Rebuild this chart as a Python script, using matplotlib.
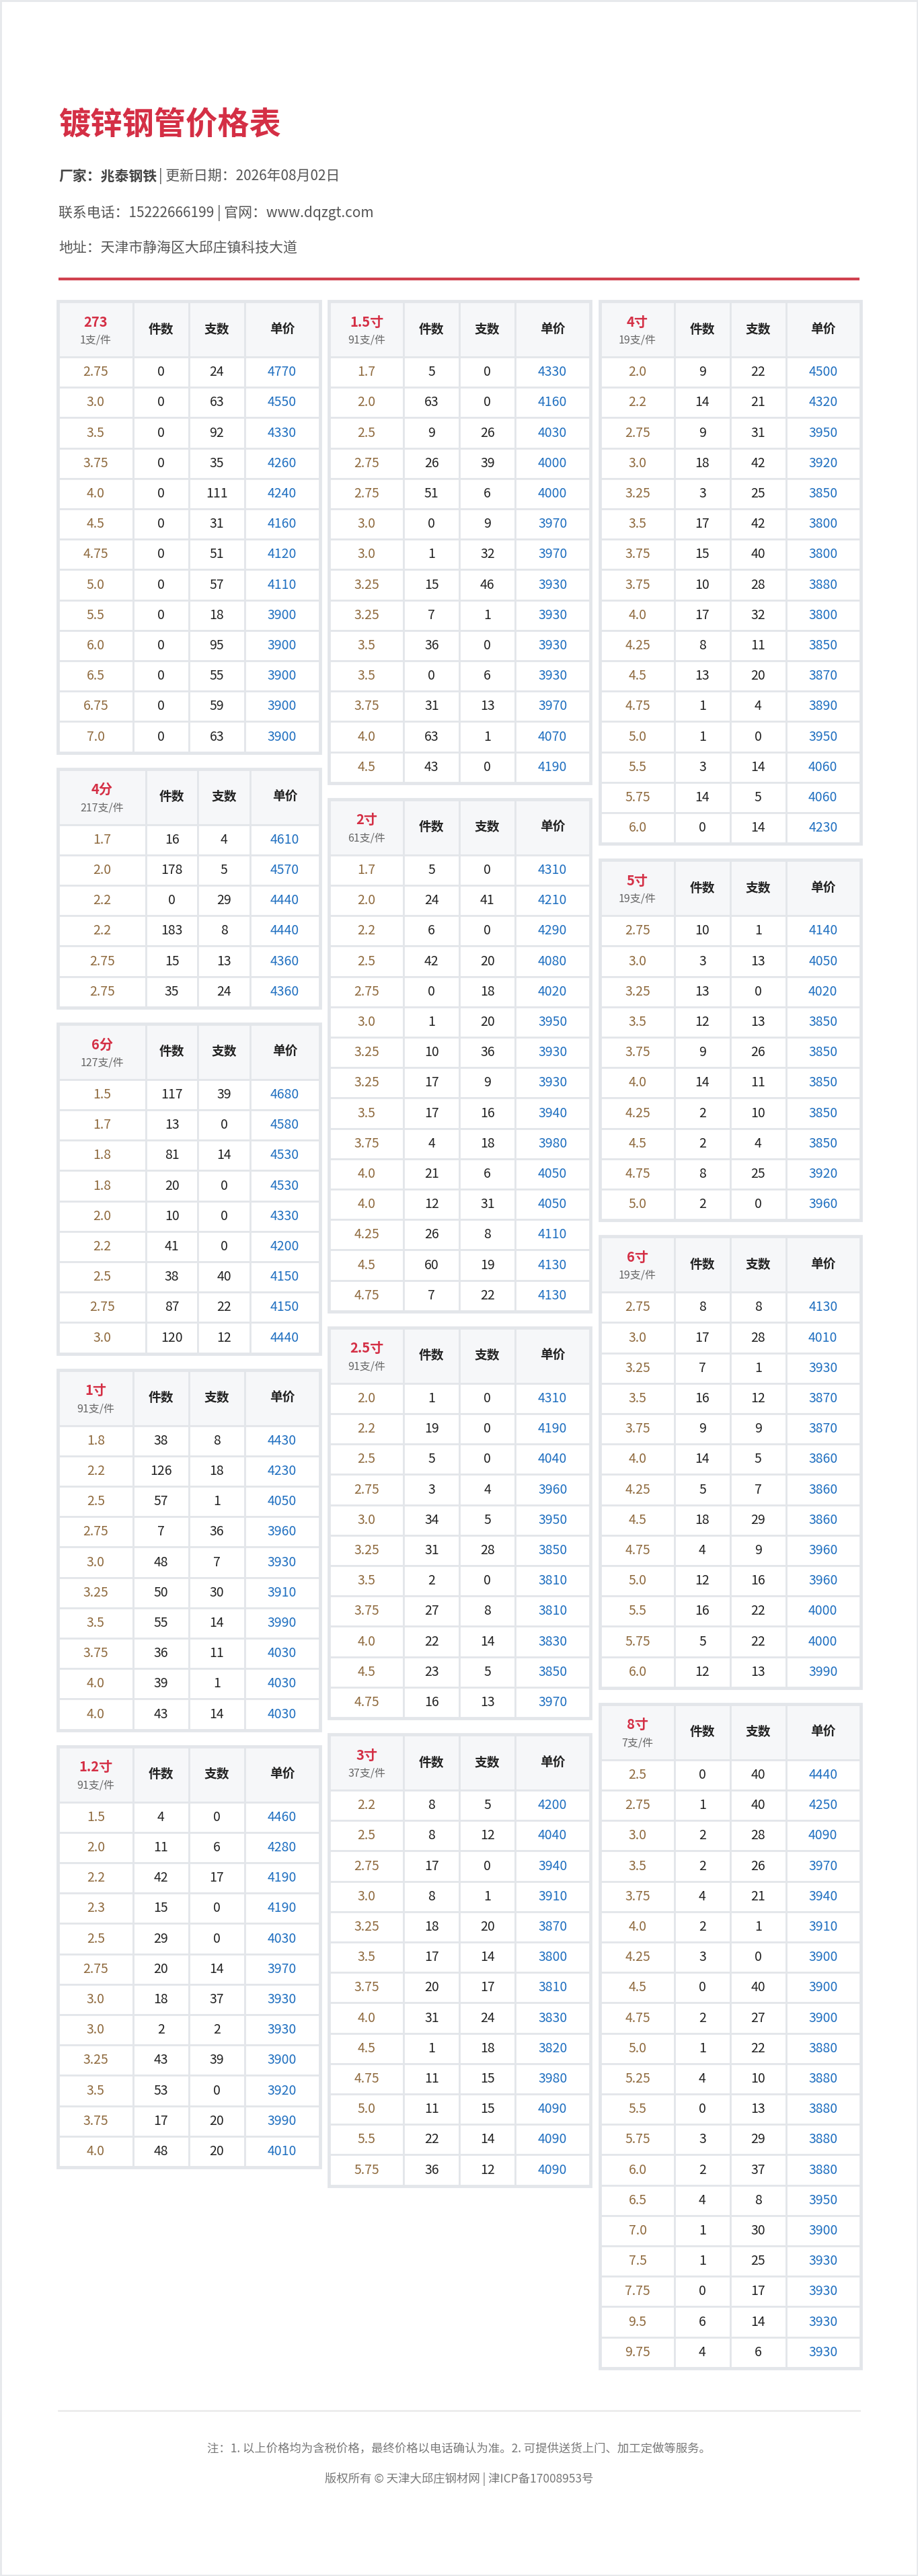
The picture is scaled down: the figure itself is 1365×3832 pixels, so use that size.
import matplotlib
matplotlib.use('Agg')
import matplotlib.pyplot as plt
from matplotlib.patches import Rectangle

plt.rcParams['font.family'] = ['Noto Sans CJK SC', 'DejaVu Sans']

# ---- data ----
t273_wall = ['2.75', '3.0', '3.5', '3.75', '4.0', '4.5', '4.75', '5.0', '5.5', '6.0', '6.5', '6.75', '7.0']
t273_jian = [0, 0, 0, 0, 0, 0, 0, 0, 0, 0, 0, 0, 0]
t273_zhi = [24, 63, 92, 35, 111, 31, 51, 57, 18, 95, 55, 59, 63]
t273_price = [4770, 4550, 4330, 4260, 4240, 4160, 4120, 4110, 3900, 3900, 3900, 3900, 3900]

f4_wall = ['1.7', '2.0', '2.2', '2.2', '2.75', '2.75']
f4_jian = [16, 178, 0, 183, 15, 35]
f4_zhi = [4, 5, 29, 8, 13, 24]
f4_price = [4610, 4570, 4440, 4440, 4360, 4360]

f6_wall = ['1.5', '1.7', '1.8', '1.8', '2.0', '2.2', '2.5', '2.75', '3.0']
f6_jian = [117, 13, 81, 20, 10, 41, 38, 87, 120]
f6_zhi = [39, 0, 14, 0, 0, 0, 40, 22, 12]
f6_price = [4680, 4580, 4530, 4530, 4330, 4200, 4150, 4150, 4440]

c1_wall = ['1.8', '2.2', '2.5', '2.75', '3.0', '3.25', '3.5', '3.75', '4.0', '4.0']
c1_jian = [38, 126, 57, 7, 48, 50, 55, 36, 39, 43]
c1_zhi = [8, 18, 1, 36, 7, 30, 14, 11, 1, 14]
c1_price = [4430, 4230, 4050, 3960, 3930, 3910, 3990, 4030, 4030, 4030]

c12_wall = ['1.5', '2.0', '2.2', '2.3', '2.5', '2.75', '3.0', '3.0', '3.25', '3.5', '3.75', '4.0']
c12_jian = [4, 11, 42, 15, 29, 20, 18, 2, 43, 53, 17, 48]
c12_zhi = [0, 6, 17, 0, 0, 14, 37, 2, 39, 0, 20, 20]
c12_price = [4460, 4280, 4190, 4190, 4030, 3970, 3930, 3930, 3900, 3920, 3990, 4010]

c15_wall = ['1.7', '2.0', '2.5', '2.75', '2.75', '3.0', '3.0', '3.25', '3.25', '3.5', '3.5', '3.75', '4.0', '4.5']
c15_jian = [5, 63, 9, 26, 51, 0, 1, 15, 7, 36, 0, 31, 63, 43]
c15_zhi = [0, 0, 26, 39, 6, 9, 32, 46, 1, 0, 6, 13, 1, 0]
c15_price = [4330, 4160, 4030, 4000, 4000, 3970, 3970, 3930, 3930, 3930, 3930, 3970, 4070, 4190]

c2_wall = ['1.7', '2.0', '2.2', '2.5', '2.75', '3.0', '3.25', '3.25', '3.5', '3.75', '4.0', '4.0', '4.25', '4.5', '4.75']
c2_jian = [5, 24, 6, 42, 0, 1, 10, 17, 17, 4, 21, 12, 26, 60, 7]
c2_zhi = [0, 41, 0, 20, 18, 20, 36, 9, 16, 18, 6, 31, 8, 19, 22]
c2_price = [4310, 4210, 4290, 4080, 4020, 3950, 3930, 3930, 3940, 3980, 4050, 4050, 4110, 4130, 4130]

c25_wall = ['2.0', '2.2', '2.5', '2.75', '3.0', '3.25', '3.5', '3.75', '4.0', '4.5', '4.75']
c25_jian = [1, 19, 5, 3, 34, 31, 2, 27, 22, 23, 16]
c25_zhi = [0, 0, 0, 4, 5, 28, 0, 8, 14, 5, 13]
c25_price = [4310, 4190, 4040, 3960, 3950, 3850, 3810, 3810, 3830, 3850, 3970]

c3_wall = ['2.2', '2.5', '2.75', '3.0', '3.25', '3.5', '3.75', '4.0', '4.5', '4.75', '5.0', '5.5', '5.75']
c3_jian = [8, 8, 17, 8, 18, 17, 20, 31, 1, 11, 11, 22, 36]
c3_zhi = [5, 12, 0, 1, 20, 14, 17, 24, 18, 15, 15, 14, 12]
c3_price = [4200, 4040, 3940, 3910, 3870, 3800, 3810, 3830, 3820, 3980, 4090, 4090, 4090]

c4_wall = ['2.0', '2.2', '2.75', '3.0', '3.25', '3.5', '3.75', '3.75', '4.0', '4.25', '4.5', '4.75', '5.0', '5.5', '5.75', '6.0']
c4_jian = [9, 14, 9, 18, 3, 17, 15, 10, 17, 8, 13, 1, 1, 3, 14, 0]
c4_zhi = [22, 21, 31, 42, 25, 42, 40, 28, 32, 11, 20, 4, 0, 14, 5, 14]
c4_price = [4500, 4320, 3950, 3920, 3850, 3800, 3800, 3880, 3800, 3850, 3870, 3890, 3950, 4060, 4060, 4230]

c5_wall = ['2.75', '3.0', '3.25', '3.5', '3.75', '4.0', '4.25', '4.5', '4.75', '5.0']
c5_jian = [10, 3, 13, 12, 9, 14, 2, 2, 8, 2]
c5_zhi = [1, 13, 0, 13, 26, 11, 10, 4, 25, 0]
c5_price = [4140, 4050, 4020, 3850, 3850, 3850, 3850, 3850, 3920, 3960]

c6_wall = ['2.75', '3.0', '3.25', '3.5', '3.75', '4.0', '4.25', '4.5', '4.75', '5.0', '5.5', '5.75', '6.0']
c6_jian = [8, 17, 7, 16, 9, 14, 5, 18, 4, 12, 16, 5, 12]
c6_zhi = [8, 28, 1, 12, 9, 5, 7, 29, 9, 16, 22, 22, 13]
c6_price = [4130, 4010, 3930, 3870, 3870, 3860, 3860, 3860, 3960, 3960, 4000, 4000, 3990]

c8_wall = ['2.5', '2.75', '3.0', '3.5', '3.75', '4.0', '4.25', '4.5', '4.75', '5.0',
           '5.25', '5.5', '5.75', '6.0', '6.5', '7.0', '7.5', '7.75', '9.5', '9.75']
c8_jian = [0, 1, 2, 2, 4, 2, 3, 0, 2, 1, 4, 0, 3, 2, 4, 1, 1, 0, 6, 4]
c8_zhi = [40, 40, 28, 26, 21, 1, 0, 40, 27, 22, 10, 13, 29, 37, 8, 30, 25, 17, 14, 6]
c8_price = [4440, 4250, 4090, 3970, 3940, 3910, 3900, 3900, 3900, 3880,
            3880, 3880, 3880, 3880, 3950, 3900, 3930, 3930, 3930, 3930]

columns = [
    [('273', '1支/件', t273_wall, t273_jian, t273_zhi, t273_price),
     ('4分', '217支/件', f4_wall, f4_jian, f4_zhi, f4_price),
     ('6分', '127支/件', f6_wall, f6_jian, f6_zhi, f6_price),
     ('1寸', '91支/件', c1_wall, c1_jian, c1_zhi, c1_price),
     ('1.2寸', '91支/件', c12_wall, c12_jian, c12_zhi, c12_price)],
    [('1.5寸', '91支/件', c15_wall, c15_jian, c15_zhi, c15_price),
     ('2寸', '61支/件', c2_wall, c2_jian, c2_zhi, c2_price),
     ('2.5寸', '91支/件', c25_wall, c25_jian, c25_zhi, c25_price),
     ('3寸', '37支/件', c3_wall, c3_jian, c3_zhi, c3_price)],
    [('4寸', '19支/件', c4_wall, c4_jian, c4_zhi, c4_price),
     ('5寸', '19支/件', c5_wall, c5_jian, c5_zhi, c5_price),
     ('6寸', '19支/件', c6_wall, c6_jian, c6_zhi, c6_price),
     ('8寸', '7支/件', c8_wall, c8_jian, c8_zhi, c8_price)],
]

RED = '#d42f45'
BROWN = '#8f6a3e'
BLUE = '#1f6fc0'
BORDER = '#e3e6ea'
HEAD_BG = '#f6f7f9'

W, H = 1365, 3832
fig = plt.figure(figsize=(W / 100, H / 100), dpi=100)
ax = fig.add_axes([0, 0, 1, 1])
ax.set_xlim(0, W)
ax.set_ylim(H, 0)
ax.axis('off')

# page frame
ax.add_patch(Rectangle((1, 1), W - 2, H - 2, fill=False, ec='#e6e8eb', lw=2))

# header block
ax.text(87, 187, '镀锌钢管价格表', fontsize=34, fontweight='bold', color=RED, va='center')
ax.text(87, 262, '厂家：兆泰钢铁', fontsize=15, fontweight='bold', color='#444', va='center')
ax.text(236, 262, '| 更新日期：2026年08月02日', fontsize=15, color='#555', va='center')
ax.text(87, 317, '联系电话：15222666199 | 官网：www.dqzgt.com', fontsize=15, color='#555', va='center')
ax.text(87, 370, '地址：天津市静海区大邱庄镇科技大道', fontsize=15, color='#555', va='center')
ax.plot([87, 1278], [415, 415], color='#d0414f', lw=3, solid_capstyle='butt')

HEAD_H, ROW_H, GAP = 82, 45.2, 26
col_x = [(87, 475), (490, 877), (893, 1279)]


def draw_table(x0, x1, y0, name, sub, wall, jian, zhi, price):
    width = x1 - x0
    first = 0.335 if len(sub) >= 6 else 0.285
    rest = (1 - first)
    fr = [first, rest * 0.3, rest * 0.3, rest * 0.4]
    xs = [x0]
    for f in fr:
        xs.append(xs[-1] + f * width)
    n = len(wall)
    y1 = y0 + HEAD_H + n * ROW_H
    ax.add_patch(Rectangle((x0 - 2, y0 - 2), width + 4, y1 - y0 + 4, fc='white', ec=BORDER, lw=2))
    # header
    for j in range(4):
        ax.add_patch(Rectangle((xs[j], y0), xs[j + 1] - xs[j], HEAD_H, fc=HEAD_BG, ec=BORDER, lw=2))
    cx = [(xs[j] + xs[j + 1]) / 2 for j in range(4)]
    ax.text(cx[0], y0 + HEAD_H / 2 - 11, name, fontsize=14.5, fontweight='bold', color=RED, ha='center', va='center')
    ax.text(cx[0], y0 + HEAD_H / 2 + 16, sub, fontsize=11.5, color='#666', ha='center', va='center')
    for j, lab in enumerate(['件数', '支数', '单价']):
        ax.text(cx[j + 1], y0 + HEAD_H / 2, lab, fontsize=13.5, fontweight='bold', color='#222', ha='center', va='center')
    for i in range(n):
        ry = y0 + HEAD_H + i * ROW_H
        for j in range(4):
            ax.add_patch(Rectangle((xs[j], ry), xs[j + 1] - xs[j], ROW_H, fc='white', ec=BORDER, lw=2))
        yc = ry + ROW_H / 2
        ax.text(cx[0], yc, wall[i], fontsize=14, color=BROWN, ha='center', va='center')
        ax.text(cx[1], yc, str(jian[i]), fontsize=14, color='#222', ha='center', va='center')
        ax.text(cx[2], yc, str(zhi[i]), fontsize=14, color='#222', ha='center', va='center')
        ax.text(cx[3], yc, str(price[i]), fontsize=14, color=BLUE, ha='center', va='center')
    return y1


for (x0, x1), tables in zip(col_x, columns):
    y = 449
    for t in tables:
        y = draw_table(x0, x1, y, *t) + GAP

# footer
ax.plot([87, 1278], [3586, 3586], color='#ececec', lw=2)
ax.text(W / 2, 3643, '注：1. 以上价格均为含税价格，最终价格以电话确认为准。2. 可提供送货上门、加工定做等服务。',
        fontsize=12.5, color='#777', ha='center', va='center')
ax.text(W / 2, 3688, '版权所有 © 天津大邱庄钢材网 | 津ICP备17008953号',
        fontsize=12.5, color='#777', ha='center', va='center')

plt.savefig('out.png', dpi=100)
